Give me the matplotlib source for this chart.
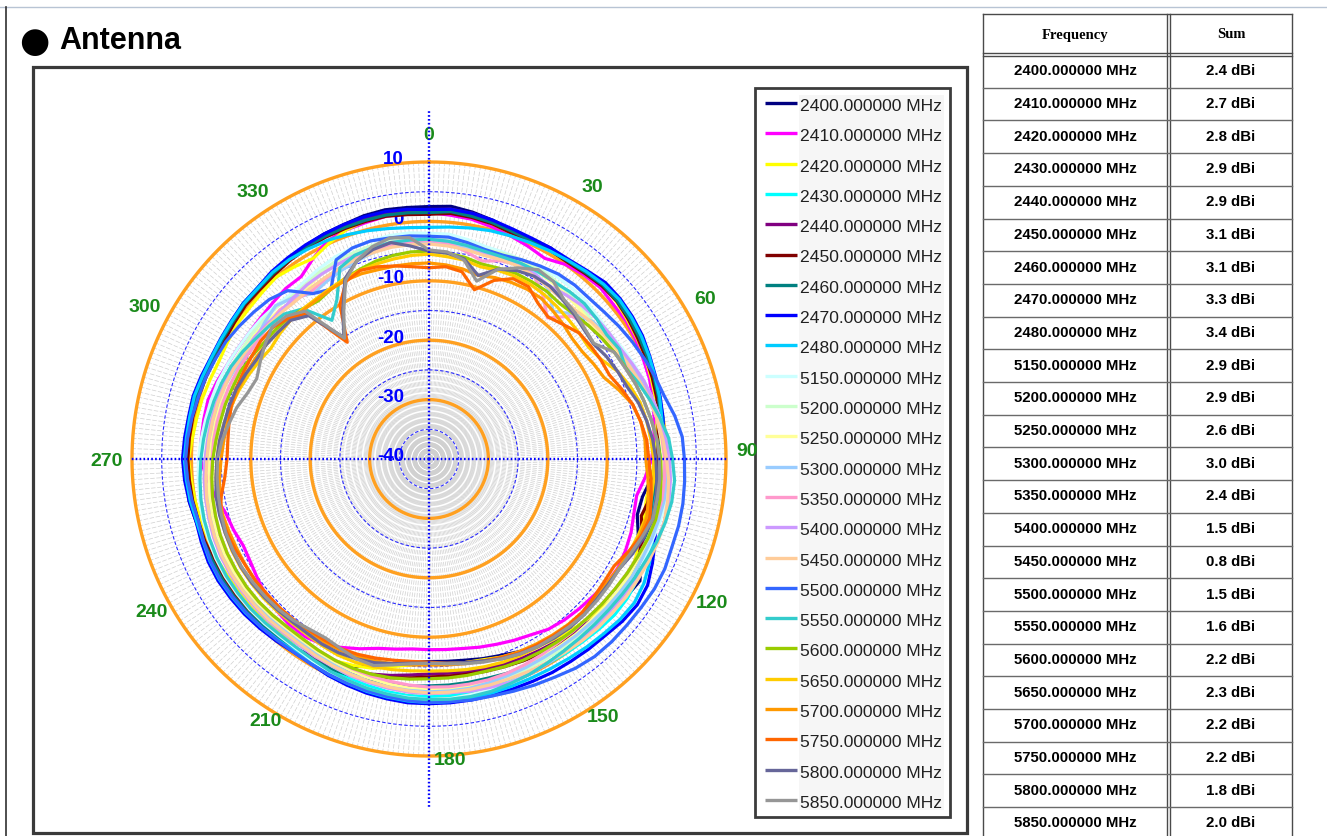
import numpy as np
import matplotlib
matplotlib.use("Agg")
import matplotlib.pyplot as plt
from matplotlib.patches import Rectangle

plt.rcParams['lines.scale_dashes'] = False
plt.rcParams['font.family'] = ['Liberation Sans', 'DejaVu Sans']

W, H = 1327, 836
CX, CY = 429, 459          # polar centre (px)
R_OUT = 297                # radius of +10 dB ring (px)
R_MIN, R_MAX = -40, 10
PX_PER_DB = R_OUT / (R_MAX - R_MIN)

# ---------------- data ----------------
angles_deg = np.arange(0, 360, 5)

freq_mhz = [2400, 2410, 2420, 2430, 2440, 2450, 2460, 2470, 2480,
            5150, 5200, 5250, 5300, 5350, 5400, 5450, 5500, 5550,
            5600, 5650, 5700, 5750, 5800, 5850]
gain_sum_dbi = [2.4, 2.7, 2.8, 2.9, 2.9, 3.1, 3.1, 3.3, 3.4, 2.9, 2.9, 2.6,
                3.0, 2.4, 1.5, 0.8, 1.5, 1.6, 2.2, 2.3, 2.2, 2.2, 1.8, 2.0]
colors = ['#000080', '#ff00ff', '#ffff00', '#00ffff', '#800080', '#800000',
          '#008080', '#0000ff', '#00ccff', '#ccffff', '#ccffcc', '#ffff99',
          '#99ccff', '#ff99cc', '#cc99ff', '#ffcc99', '#3366ff', '#33cccc',
          '#99cc00', '#ffcc00', '#ff9900', '#ff6600', '#666699', '#969696']
r_ticks = [10, 0, -10, -20, -30, -40]
angle_tick_labels = ['0', '30', '60', '90', '120', '150', '180', '210', '240', '270', '300', '330']

s2400 = [2.5, 2.7, 2.2, 1.6, 0.8, 0.9, 1.0, 0.6, 1.2, 1.8, 1.6, 1.4,
         1.0, 0.6, 0.2, 0.0, -0.6, -1.2, -1.8, -2.4, -3.5, -3.7, -2.5, -0.5,
         1.0, 0.5, -0.5, -1.5, -2.5, -3.2, -3.6, -4.2, -4.8, -5.2, -5.6, -5.8,
         -5.9, -5.6, -5.0, -4.0, -2.8, -2.0, -1.5, -1.0, -0.5, 0.0, 0.3, 0.5,
         0.6, 0.5, 0.4, 0.6, 1.0, 0.8, 1.2, 1.0, 0.6, 0.8, 0.5, 0.2,
         0.0, 0.4, 0.8, 0.5, 1.0, 1.2, 1.5, 1.8, 2.0, 2.4, 2.6, 2.5]
s2410 = [1.5, 1.2, 1.0, 0.5, 0.0, -0.5, -1.0, 0.0, 0.5, 0.8, 0.5, 0.5,
         0.2, -0.2, -0.5, -1.0, -1.5, -2.0, -2.5, -3.5, -4.5, -4.3, -3.8, -3.5,
         -3.3, -3.5, -4.0, -4.3, -4.6, -5.0, -5.8, -6.3, -6.8, -7.2, -7.6, -7.8,
         -7.9, -7.9, -7.5, -7.0, -6.0, -5.0, -4.0, -3.5, -3.5, -3.8, -4.2, -4.8,
         -5.3, -5.5, -5.0, -4.6, -3.5, -2.5, -1.5, -1.5, -1.5, -1.5, -2.0, -2.5,
         -2.8, -3.0, -3.0, -2.8, -2.5, -2.5, -1.0, 0.5, 1.0, 1.2, 1.5, 1.5]
s2420 = [1.8, 1.8, 1.5, 1.0, 0.5, 0.2, 0.5, 0.5, 1.0, 1.3, 1.2, 0.8,
         0.5, 0.2, -0.2, -0.5, -1.0, -1.5, -2.0, -2.3, -2.8, -2.5, -2.0, -1.5,
         -1.0, -1.0, -1.5, -2.0, -2.5, -3.0, -3.5, -4.0, -4.5, -5.0, -5.2, -5.4,
         -5.5, -5.2, -4.5, -3.5, -3.0, -2.5, -2.0, -1.8, -1.5, -1.5, -1.0, -1.0,
         -0.8, -0.5, -0.5, -0.2, 0.0, 0.2, 0.5, 0.0, -0.3, -0.5, -0.8, -1.0,
         -0.8, -0.5, -0.5, -0.3, 0.0, -0.5, -1.0, 0.0, 1.0, 1.5, 1.8, 1.8]
s2430 = [1.8, 2.0, 1.8, 1.5, 1.0, 0.8, 0.8, 0.8, 1.2, 1.5, 1.5, 1.2,
         1.0, 0.8, 0.5, 0.2, 0.0, -0.3, -0.5, -1.0, -1.5, -1.0, -0.5, 0.0,
         0.5, 0.8, 0.8, 0.5, 0.2, 0.0, -0.2, -0.3, -0.3, -0.3, -0.2, 0.0,
         0.0, 0.0, -0.2, -0.5, -0.8, -1.0, -1.0, -0.8, -0.5, -0.2, 0.0, 0.2,
         0.5, 0.5, 0.5, 0.5, 0.8, 1.0, 1.2, 1.0, 0.8, 0.8, 0.6, 0.4,
         0.3, 0.5, 0.8, 0.8, 1.0, 1.2, 1.5, 1.6, 1.8, 2.0, 2.0, 1.8]
s2440 = [2.0, 2.2, 2.0, 1.5, 1.0, 0.8, 0.8, 0.6, 1.0, 1.5, 1.5, 1.0,
         0.8, 0.5, 0.2, 0.0, -0.5, -1.0, -1.2, -1.8, -2.5, -2.0, -1.5, -1.0,
         -0.5, -0.5, -1.0, -1.5, -2.0, -2.5, -2.8, -3.0, -3.2, -3.5, -3.6, -3.8,
         -3.8, -3.5, -3.0, -2.5, -2.0, -1.5, -1.2, -1.0, -0.8, -0.5, -0.2, 0.0,
         0.2, 0.2, 0.3, 0.3, 0.5, 0.6, 0.8, 0.6, 0.5, 0.3, 0.2, 0.0,
         0.0, 0.2, 0.5, 0.5, 0.8, 1.0, 1.2, 1.5, 1.6, 1.8, 2.0, 2.0]
s2450 = [1.2, 1.5, 1.3, 1.0, 0.5, 0.5, 0.6, 0.5, 0.8, 1.2, 1.3, 1.0,
         0.6, 0.3, 0.0, -0.3, -0.8, -1.3, -1.5, -2.0, -2.2, -3.0, -1.8, -1.0,
         -0.5, -0.2, -0.5, -1.0, -1.5, -2.0, -2.2, -2.5, -2.8, -3.0, -3.2, -3.3,
         -3.3, -3.0, -2.6, -2.2, -1.8, -1.5, -1.2, -1.0, -0.8, -0.6, -0.4, -0.2,
         0.0, 0.0, 0.2, 0.2, 0.4, 0.5, 0.6, 0.5, 0.4, 0.2, 0.0, -0.2,
         -0.2, 0.0, 0.3, 0.3, 0.5, 0.8, 1.0, 1.2, 1.3, 1.4, 1.5, 1.3]
s2460 = [1.5, 1.8, 1.5, 1.2, 0.8, 0.6, 0.7, 0.7, 1.0, 1.4, 1.4, 1.2,
         0.9, 0.6, 0.3, 0.0, -0.4, -0.8, -1.0, -1.5, -1.8, -1.5, -1.0, -0.5,
         0.0, 0.2, 0.0, -0.3, -0.6, -1.0, -1.2, -1.5, -1.6, -1.8, -1.8, -1.8,
         -1.8, -1.6, -1.5, -1.3, -1.2, -1.0, -1.0, -0.8, -0.5, -0.3, 0.0, 0.2,
         0.3, 0.3, 0.4, 0.4, 0.6, 0.8, 1.0, 0.8, 0.6, 0.5, 0.4, 0.2,
         0.2, 0.3, 0.6, 0.6, 0.8, 1.0, 1.3, 1.4, 1.5, 1.6, 1.7, 1.6]
s2470 = [2.0, 2.2, 2.0, 1.6, 1.2, 1.0, 1.0, 1.0, 1.4, 2.0, 2.0, 1.8,
         1.5, 1.0, 0.6, 0.3, 0.0, -0.3, -0.5, -0.8, -1.0, -0.5, 0.5, 1.5,
         2.5, 2.8, 2.5, 2.0, 1.8, 1.6, 1.5, 1.3, 1.2, 1.2, 1.2, 1.2,
         1.2, 1.2, 1.0, 0.8, 0.5, 0.2, -0.2, -0.3, 0.0, 0.3, 0.6, 0.8,
         1.0, 1.0, 0.8, 0.6, 1.0, 1.3, 1.5, 1.3, 1.1, 1.1, 0.8, 0.5,
         0.5, 0.6, 0.8, 0.8, 1.2, 1.4, 1.6, 1.8, 2.0, 2.2, 2.3, 2.2]
s2480 = [-1.0, -0.8, -0.5, -0.2, 0.0, 0.2, 0.5, 0.8, 1.2, 1.6, 1.8, 1.6,
         1.3, 0.9, 0.5, 0.2, -0.2, -0.5, -0.8, -1.0, -1.2, -0.8, 0.0, 1.0,
         1.8, 2.2, 2.0, 1.6, 1.3, 1.0, 0.8, 0.7, 0.7, 0.8, 0.9, 1.0,
         1.0, 0.9, 0.7, 0.5, 0.2, 0.0, -0.3, -0.5, -0.3, 0.0, 0.3, 0.5,
         0.7, 0.7, 0.5, 0.5, 0.8, 1.0, 1.2, 1.0, 0.9, 0.9, 0.6, 0.4,
         0.4, 0.5, 0.7, 0.7, 1.0, 1.0, 0.8, 0.6, 0.2, -0.2, -0.6, -0.9]
s5150 = [-2.0, -2.0, -2.5, -3.0, -3.0, -3.0, -2.8, -2.5, -2.5, -2.5, -2.8, -3.0,
         -2.5, -2.0, -1.5, -1.0, -0.5, 0.0, 0.3, 0.5, 0.5, 0.3, 0.0, 0.0,
         0.2, 0.3, 0.2, 0.0, -0.2, -0.3, -0.3, -0.2, 0.0, 0.2, 0.3, 0.5,
         0.5, 0.3, 0.2, 0.0, -0.2, -0.5, -0.8, -1.0, -1.0, -0.8, -0.6, -0.5,
         -0.4, -0.4, -0.5, -0.6, -0.8, -1.0, -1.2, -1.5, -1.8, -2.0, -2.2, -2.5,
         -2.8, -3.0, -3.2, -3.5, -3.8, -3.5, -3.0, -2.5, -2.2, -2.0, -1.8, -1.8]
s5200 = [-2.5, -2.8, -3.0, -3.5, -3.2, -3.0, -3.0, -3.2, -3.5, -3.8, -4.0, -3.8,
         -3.2, -2.5, -1.8, -1.2, -0.8, -0.5, -0.2, 0.0, 0.0, -0.2, -0.5, -0.5,
         -0.5, -0.5, -0.6, -0.8, -1.0, -1.0, -1.0, -1.0, -0.8, -0.6, -0.5, -0.5,
         -0.5, -0.6, -0.8, -1.0, -1.2, -1.5, -1.8, -2.0, -2.0, -1.8, -1.6, -1.5,
         -1.4, -1.4, -1.5, -1.6, -1.8, -2.0, -2.3, -2.5, -2.6, -2.8, -3.0, -3.2,
         -3.5, -3.5, -3.6, -3.8, -4.2, -4.0, -3.5, -3.2, -3.0, -2.8, -2.5, -2.5]
s5250 = [-3.0, -3.2, -3.5, -4.0, -3.8, -3.5, -3.5, -3.8, -4.0, -4.2, -4.5, -4.0,
         -3.5, -2.8, -2.0, -1.5, -1.0, -0.8, -0.5, -0.3, -0.3, -0.5, -0.8, -1.0,
         -1.0, -1.2, -1.3, -1.5, -1.5, -1.6, -1.6, -1.5, -1.4, -1.3, -1.2, -1.2,
         -1.2, -1.3, -1.5, -1.8, -2.0, -2.2, -2.5, -2.6, -2.6, -2.4, -2.2, -2.0,
         -2.0, -2.0, -2.0, -2.2, -2.5, -2.8, -3.0, -3.2, -3.4, -3.5, -3.6, -3.8,
         -4.0, -4.0, -4.2, -4.5, -5.0, -4.5, -4.0, -3.8, -3.5, -3.2, -3.0, -3.0]
s5300 = [-3.5, -3.8, -4.0, -4.2, -4.0, -3.8, -4.0, -5.0, -7.5, -5.5, -4.0, -3.5,
         -3.0, -2.5, -2.0, -1.5, -1.0, -0.5, 0.0, 0.2, 0.2, 0.0, -0.2, -0.4,
         -0.5, -0.8, -1.0, -1.2, -1.3, -1.4, -1.4, -1.3, -1.2, -1.0, -0.8, -0.8,
         -0.8, -0.9, -1.0, -1.2, -1.5, -1.8, -2.0, -2.2, -2.2, -2.0, -1.8, -1.6,
         -1.5, -1.5, -1.6, -1.8, -2.0, -2.2, -2.5, -2.8, -3.0, -3.2, -3.5, -4.0,
         -4.5, -4.5, -4.0, -3.5, -4.5, -6.0, -5.5, -5.0, -4.5, -4.0, -3.5, -3.5]
s5350 = [-3.2, -3.5, -4.5, -5.5, -4.5, -4.0, -4.5, -6.5, -9.0, -6.0, -5.0, -4.5,
         -4.0, -3.0, -2.2, -1.5, -1.0, -0.6, -0.3, -0.2, -0.2, -0.5, -0.8, -1.2,
         -1.5, -1.8, -2.0, -2.2, -2.2, -2.2, -2.0, -1.8, -1.6, -1.5, -1.5, -1.5,
         -1.6, -1.8, -2.0, -2.2, -2.4, -2.6, -2.8, -3.0, -3.0, -2.8, -2.6, -2.5,
         -2.5, -2.5, -2.6, -2.8, -3.0, -3.2, -3.5, -3.6, -3.8, -4.0, -4.2, -4.5,
         -4.8, -5.0, -4.8, -4.5, -5.0, -5.5, -5.0, -4.5, -4.0, -3.8, -3.5, -3.3]
s5400 = [-3.0, -3.2, -3.5, -4.0, -4.2, -4.0, -4.2, -4.5, -4.0, -3.5, -3.2, -3.0,
         -2.8, -2.2, -1.5, -1.0, -0.5, 0.0, 0.5, 0.8, 1.0, 1.0, 0.8, 0.5,
         0.3, 0.0, -0.2, -0.3, -0.3, -0.3, -0.2, 0.0, 0.0, -0.2, -0.3, -0.5,
         -0.5, -0.6, -0.8, -1.0, -1.2, -1.5, -1.6, -1.8, -1.8, -1.6, -1.5, -1.4,
         -1.3, -1.3, -1.4, -1.6, -1.8, -2.0, -2.3, -2.6, -2.8, -3.0, -3.3, -3.6,
         -4.0, -4.2, -4.5, -4.8, -4.5, -4.2, -4.0, -3.8, -3.5, -3.2, -3.0, -3.0]
s5450 = [-3.8, -4.0, -4.2, -4.5, -4.3, -4.2, -4.5, -4.8, -5.0, -4.8, -4.2, -3.8,
         -3.3, -2.8, -2.2, -1.5, -1.0, -0.5, 0.0, 0.5, 0.8, 1.0, 1.0, 0.8,
         0.6, 0.5, 0.3, 0.2, 0.0, -0.2, -0.4, -0.5, -0.6, -0.6, -0.6, -0.6,
         -0.6, -0.8, -1.0, -1.2, -1.4, -1.6, -1.8, -2.0, -2.0, -1.8, -1.7, -1.6,
         -1.5, -1.5, -1.6, -1.8, -2.0, -2.3, -2.6, -2.8, -3.0, -3.2, -3.5, -3.8,
         -4.2, -4.5, -4.8, -5.0, -5.2, -5.0, -4.8, -4.5, -4.2, -4.0, -3.8, -3.8]
s5500 = [-2.5, -2.5, -3.0, -3.5, -3.5, -3.0, -2.5, -2.0, -1.8, -1.8, -1.5, -1.0,
         -0.5, 0.0, 0.5, 1.0, 2.0, 2.8, 3.0, 3.2, 3.4, 3.5, 3.5, 3.8,
         3.8, 3.6, 3.5, 3.5, 3.4, 3.0, 2.4, 2.0, 1.6, 1.3, 1.2, 1.0,
         1.0, 0.8, 0.6, 0.4, 0.2, 0.0, -0.2, -0.3, -0.2, 0.0, 0.2, 0.4,
         0.6, 0.6, 0.4, 0.2, 0.5, 0.8, 1.0, 0.8, 0.5, 0.2, 0.0, -0.3,
         -0.5, -1.0, -1.5, -2.0, -3.0, -6.0, -7.0, -3.0, -2.2, -2.0, -2.2, -2.3]
s5550 = [-3.0, -3.2, -3.5, -3.8, -3.8, -3.6, -3.5, -3.5, -3.2, -3.0, -3.2, -3.5,
         -3.0, -3.5, -2.5, -1.5, -0.5, 0.5, 1.0, 1.5, 1.5, 1.2, 0.8, 0.3,
         0.0, -0.3, -0.5, -0.6, -0.6, -0.5, -0.3, 0.0, 0.2, 0.5, 0.6, 0.6,
         0.5, 0.4, 0.2, 0.0, -0.3, -0.6, -1.0, -1.2, -1.2, -1.0, -0.8, -0.7,
         -0.6, -0.6, -0.7, -0.8, -1.0, -1.3, -1.6, -1.9, -2.2, -2.5, -2.8, -3.2,
         -3.8, -4.5, -5.0, -5.5, -7.0, -11.5, -9.0, -4.5, -3.5, -3.2, -3.0, -3.0]
s5600 = [-5.0, -5.2, -5.5, -6.0, -5.8, -5.5, -5.5, -5.5, -5.8, -5.5, -5.0, -4.5,
         -4.0, -3.5, -3.0, -2.5, -2.0, -1.5, -1.0, -0.8, -0.5, -0.5, -0.8, -1.2,
         -1.5, -1.8, -2.0, -2.2, -2.3, -2.4, -2.5, -2.6, -2.8, -3.0, -3.0, -3.0,
         -3.0, -2.8, -2.6, -2.5, -2.5, -2.6, -2.8, -3.0, -3.0, -2.8, -2.6, -2.5,
         -2.5, -2.5, -2.6, -2.8, -3.0, -3.3, -3.6, -4.0, -4.3, -4.5, -4.8, -5.0,
         -5.5, -6.0, -6.2, -6.5, -7.0, -7.5, -7.0, -6.5, -6.0, -5.5, -5.2, -5.0]
s5650 = [-5.5, -5.8, -6.0, -6.5, -6.2, -6.0, -6.0, -6.2, -6.5, -6.8, -7.0, -7.2,
         -6.5, -5.0, -4.0, -3.2, -2.8, -2.5, -2.2, -2.0, -2.0, -2.2, -2.5, -2.8,
         -3.0, -3.2, -3.3, -3.3, -3.3, -3.3, -3.4, -3.5, -3.6, -3.8, -4.0, -4.2,
         -4.3, -4.2, -4.0, -3.8, -3.6, -3.6, -3.8, -4.0, -4.0, -3.8, -3.6, -3.5,
         -3.4, -3.4, -3.5, -3.6, -3.8, -4.0, -4.3, -4.6, -5.0, -5.5, -6.0, -6.5,
         -7.0, -7.5, -7.2, -7.0, -7.0, -7.0, -6.8, -6.5, -6.2, -6.0, -5.8, -5.6]
s5700 = [-7.0, -7.2, -7.5, -8.0, -7.5, -7.2, -7.0, -7.0, -7.5, -8.0, -8.5, -8.5,
         -8.0, -7.5, -6.0, -4.5, -3.8, -3.5, -3.5, -3.0, -2.5, -2.0, -2.2, -2.8,
         -3.2, -3.5, -3.5, -3.5, -3.6, -3.8, -4.0, -4.2, -4.5, -4.8, -5.0, -5.2,
         -5.3, -5.2, -5.0, -4.8, -4.6, -4.5, -4.5, -4.6, -4.6, -4.5, -4.4, -4.3,
         -4.3, -4.3, -4.2, -4.0, -4.2, -4.6, -5.0, -5.3, -5.5, -5.6, -5.8, -6.0,
         -6.2, -6.5, -6.8, -7.0, -7.2, -7.2, -7.0, -6.8, -6.8, -7.0, -7.0, -7.0]
s5750 = [-7.8, -7.5, -8.0, -10.5, -8.0, -6.5, -6.5, -8.0, -8.8, -8.0, -7.0, -6.8,
         -6.6, -6.5, -5.5, -4.5, -3.8, -3.2, -3.0, -2.5, -2.0, -1.5, -2.0, -3.0,
         -4.0, -4.0, -3.8, -3.5, -3.5, -3.6, -3.8, -4.0, -4.4, -4.8, -5.2, -5.5,
         -5.8, -5.8, -5.6, -5.3, -5.0, -4.8, -4.8, -4.8, -4.6, -4.5, -4.5, -4.3,
         -4.3, -4.0, -3.8, -3.6, -4.5, -5.5, -6.0, -6.0, -5.8, -5.5, -5.4, -5.5,
         -5.5, -5.4, -5.6, -6.5, -8.0, -16.0, -10.0, -7.0, -6.2, -6.5, -7.0, -7.5]
s5800 = [-5.0, -5.2, -5.8, -8.0, -6.0, -5.0, -4.5, -4.5, -5.0, -5.5, -6.0, -6.2,
         -5.5, -5.0, -4.5, -3.5, -2.8, -2.2, -1.8, -1.5, -1.2, -1.0, -1.5, -2.2,
         -3.0, -3.2, -3.2, -3.0, -3.0, -3.2, -3.5, -3.8, -4.2, -4.8, -5.2, -5.5,
         -5.6, -5.5, -5.0, -4.5, -4.2, -4.0, -4.0, -4.2, -4.2, -4.0, -3.8, -3.6,
         -3.5, -3.5, -3.5, -3.5, -3.6, -4.0, -4.3, -4.6, -5.0, -5.2, -5.5, -6.0,
         -6.5, -6.5, -6.8, -7.0, -8.5, -15.0, -11.0, -6.5, -4.5, -3.5, -3.0, -4.0]
s5850 = [-4.8, -5.0, -6.0, -9.0, -6.0, -4.5, -3.2, -3.5, -4.8, -5.2, -5.8, -6.1,
         -4.0, -3.6, -3.0, -2.5, -2.0, -1.5, -1.2, -1.0, -1.0, -1.0, -1.8, -2.5,
         -3.0, -3.0, -3.0, -3.0, -3.2, -3.4, -3.5, -3.8, -4.2, -4.6, -5.0, -5.4,
         -5.6, -5.4, -4.8, -4.0, -4.2, -4.8, -5.2, -5.0, -4.5, -4.2, -4.0, -3.8,
         -3.6, -3.6, -3.6, -3.8, -4.0, -4.2, -4.4, -5.0, -5.8, -6.5, -7.5, -8.0,
         -7.2, -6.3, -5.5, -6.0, -7.5, -15.2, -11.3, -6.8, -4.5, -3.0, -2.2, -2.6]

series = [s2400, s2410, s2420, s2430, s2440, s2450, s2460, s2470, s2480,
          s5150, s5200, s5250, s5300, s5350, s5400, s5450, s5500, s5550,
          s5600, s5650, s5700, s5750, s5800, s5850]
labels = [f"{f}.000000 MHz" for f in freq_mhz]

# ---------------- figure ----------------
fig = plt.figure(figsize=(W / 100, H / 100), dpi=100)
ov = fig.add_axes([0, 0, 1, 1])
ov.set_xlim(0, W)
ov.set_ylim(H, 0)
ov.axis('off')
ov.set_zorder(0)

# page lines
ov.plot([0, W], [7, 7], color='#b8c4d4', lw=1.0)
ov.plot([6, 6], [7, H], color='#303030', lw=1.2)

# title
ov.text(34, 41.5, '\u25cf', fontsize=25, ha='center', va='center', color='black',
        family=['DejaVu Sans'])
ov.text(59, 41, 'Antenna', fontsize=22, ha='left', va='center', fontweight='bold',
        family=['Liberation Sans', 'DejaVu Sans'], color='black')

# chart frame
ov.add_patch(Rectangle((33, 67), 934, 766, fill=False, ec='#3a3a3a', lw=2.3))

# ---------------- polar chart ----------------
pa = fig.add_axes([(CX - R_OUT) / W, (H - CY - R_OUT) / H, 2 * R_OUT / W, 2 * R_OUT / H],
                  projection='polar')
pa.set_zorder(1)
pa.set_theta_zero_location('N')
pa.set_theta_direction(-1)
pa.set_ylim(R_MIN, R_MAX)
pa.grid(False)
pa.set_xticks([])
pa.set_yticks([])
pa.spines['polar'].set_visible(False)
pa.patch.set_visible(False)

for d in range(360):
    t = np.radians(d)
    pa.plot([t, t], [R_MIN, R_MAX], color='#d0d0d0', lw=0.5, ls=(0, (3.2, 1.2)),
            zorder=1, clip_on=False)

circ = np.linspace(0, 2 * np.pi, 721)
for v in [-35, -25, -15, -5, 5]:
    pa.plot(circ, np.full_like(circ, v), color='#2a2aff', lw=0.8, ls=(0, (2.5, 1.5)),
            zorder=1.5, clip_on=False)
for v in [-30, -20, -10, 0, 10]:
    pa.plot(circ, np.full_like(circ, v), color='#ffa020', lw=2.4, zorder=1.6, clip_on=False)

for v in r_ticks:
    pa.annotate(str(v), xy=(0, v), xytext=(-25, 2), textcoords='offset pixels',
                ha='right', va='center', color='#0000ff', fontsize=13.5, fontweight='bold',
                zorder=2, annotation_clip=False)

ang_label_pos = [(0, 324), (31, 317), (60, 319), (88.7, 318), (117, 318), (146, 312),
                 (176, 302), (212, 309), (241, 317), (269.6, 322), (298, 322), (326.5, 319)]
for lab, (a, rp) in zip(angle_tick_labels, ang_label_pos):
    pa.text(np.radians(a), rp / PX_PER_DB + R_MIN, lab, ha='center', va='center',
            color='#1a8a1a', fontsize=14, fontweight='bold', clip_on=False, zorder=2)

th = np.radians(np.append(angles_deg, 360))
for i, (vals, c) in enumerate(zip(series, colors)):
    r = np.append(vals, vals[0])
    pa.plot(th, r, color=c, lw=2.3, zorder=3 + i * 0.01, clip_on=False)

# blue dotted axes
for a, rmax in [(0, 18.9), (180, 18.9), (90, 10.2), (270, 10.2)]:
    t = np.radians(a)
    pa.plot([t, t], [R_MIN, rmax], color='#0000ff', lw=1.7, ls=(0, (1.2, 1.6)),
            zorder=10, clip_on=False)

# ---------------- legend ----------------
ov.add_patch(Rectangle((755, 88), 195, 729, fill=False, ec='#3c3c3c', lw=2.0))
ov.add_patch(Rectangle((799, 95), 145, 715, fc='#f6f6f6', ec='none'))
for i, (lab, c) in enumerate(zip(labels, colors)):
    y = 103 + 30.3 * i
    ov.plot([765, 797], [y, y], color=c, lw=2.4, solid_capstyle='butt')
    ov.text(800, y + 3.5, lab, ha='left', va='center', fontsize=12.6, color='#202020',
            family=['Liberation Sans', 'DejaVu Sans'])

# ---------------- table ----------------
TL, TM1, TM2, TR = 983, 1167, 1170, 1292
T_TOP, HDR_B1, HDR_B2 = 14, 53, 56
ROW_H = 32.7
for x in [TL, TM1, TM2, TR]:
    ov.plot([x, x], [T_TOP, H], color='#4a4a4a', lw=1.0)
for y in [T_TOP, HDR_B1, HDR_B2]:
    ov.plot([TL, TR], [y, y], color='#4a4a4a', lw=1.0)
for k in range(1, 25):
    y = HDR_B2 - 1 + ROW_H * k
    if y < H:
        ov.plot([TL, TR], [y, y], color='#6a6a6a', lw=1.0)
ov.text((TL + TM1) / 2, 35, 'Frequency', ha='center', va='center', fontsize=10.5,
        fontweight='bold', family=['Liberation Serif', 'DejaVu Serif'])
ov.text((TM2 + TR) / 2, 35, 'Sum', ha='center', va='center', fontsize=10.5,
        fontweight='bold', family=['Liberation Serif', 'DejaVu Serif'])
for i, (f, g) in enumerate(zip(freq_mhz, gain_sum_dbi)):
    yc = HDR_B2 - 1 + ROW_H * (i + 0.5)
    ov.text((TL + TM1) / 2, yc, f"{f}.000000 MHz", ha='center', va='center',
            fontsize=10.8, fontweight='bold')
    ov.text((TM2 + TR) / 2, yc, f"{g:.1f} dBi", ha='center', va='center',
            fontsize=10.8, fontweight='bold')

fig.savefig('out.png', dpi=100)
